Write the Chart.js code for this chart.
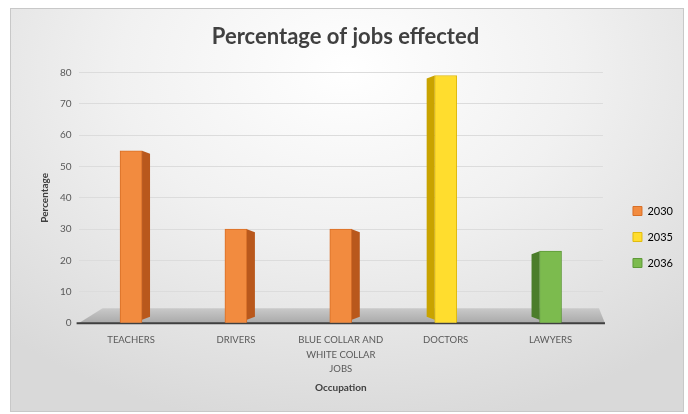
<!DOCTYPE html>
<html>
<head>
<meta charset="utf-8">
<title>Percentage of jobs effected</title>
<script src="https://cdn.jsdelivr.net/npm/chart.js@4.4.1/dist/chart.umd.min.js"></script>
<style>
  html, body { margin: 0; padding: 0; background: #fff; }
  #wrap { position: relative; width: 688px; height: 414px; overflow: hidden; }
  #frame {
    position: absolute; left: 10px; top: 8px; width: 672px; height: 402px;
    border: 1px solid #c8c8c8;
    background: radial-gradient(ellipse 75% 90% at 50% 15%, #ffffff 0%, #f1f1f1 45%, #d9d9d9 100%);
  }
  #chart { position: absolute; left: 0; top: 0; }
</style>
</head>
<body>
<div id="wrap">
  <div id="frame"></div>
  <canvas id="chart" width="688" height="414"></canvas>
</div>
<script>
const categories = ['TEACHERS', 'DRIVERS', ['BLUE COLLAR AND', 'WHITE COLLAR', 'JOBS'], 'DOCTORS', 'LAWYERS'];
const years = ['2030', '2035', '2036'];
const values2030 = [55, 30, 30, null, null];
const values2035 = [null, null, null, 79, null];
const values2036 = [null, null, null, null, 23];
const yTicks = [0, 10, 20, 30, 40, 50, 60, 70, 80];

const fontFamily = "Lato, 'Liberation Sans', sans-serif";
const fronts = ['#f28b3f', '#ffdd2e', '#7cbb4e'];
const sides = ['#b9581c', '#c9a300', '#4b7d2b'];
const borders = ['#d86f27', '#e0bb10', '#5e9a38'];

// grey floor under the bars, like the 3d excel chart
const floorPlugin = {
  id: 'floor',
  beforeDatasetsDraw(chart) {
    const { ctx, chartArea } = chart;
    const b = chartArea.bottom;
    ctx.save();
    const g = ctx.createLinearGradient(0, b - 15, 0, b);
    g.addColorStop(0, '#c9c9c9');
    g.addColorStop(1, '#a9a9a9');
    ctx.fillStyle = g;
    ctx.beginPath();
    ctx.moveTo(chartArea.left, b);
    ctx.lineTo(chartArea.left + 24, b - 15);
    ctx.lineTo(chartArea.right - 4, b - 15);
    ctx.lineTo(chartArea.right + 2, b);
    ctx.closePath();
    ctx.fill();
    ctx.strokeStyle = '#3f3f3f';
    ctx.lineWidth = 2;
    ctx.beginPath();
    ctx.moveTo(chartArea.left - 2, b);
    ctx.lineTo(chartArea.right + 2, b);
    ctx.stroke();
    ctx.restore();
  }
};

// side faces of the bars
const sidePlugin = {
  id: 'sides',
  afterDatasetsDraw(chart) {
    const { ctx, chartArea } = chart;
    const vanish = chartArea.left + (chartArea.right - chartArea.left) * 0.6;
    ctx.save();
    chart.data.datasets.forEach((ds, i) => {
      const meta = chart.getDatasetMeta(i);
      meta.data.forEach((bar, j) => {
        if (ds.data[j] == null) return;
        const half = bar.width / 2;
        const top = bar.y, bottom = bar.base - 3;
        const d = 8;
        ctx.fillStyle = sides[i];
        ctx.beginPath();
        if (bar.x < vanish) {
          const xr = bar.x + half;
          ctx.moveTo(xr, top);
          ctx.lineTo(xr + d, top + 3);
          ctx.lineTo(xr + d, bottom - 3);
          ctx.lineTo(xr, bottom);
        } else {
          const xl = bar.x - half;
          ctx.moveTo(xl, top);
          ctx.lineTo(xl - d, top + 3);
          ctx.lineTo(xl - d, bottom - 3);
          ctx.lineTo(xl, bottom);
        }
        ctx.closePath();
        ctx.fill();
      });
    });
    ctx.restore();
  }
};

// nudge legend lower/right and title a bit left, as in the excel picture
const nudgePlugin = {
  id: 'nudge',
  afterLayout(chart) {
    const lg = chart.legend;
    lg.left += 15; lg.right += 15;
    lg.top += 40; lg.bottom += 40;
    const t = chart.titleBlock;
    t.left -= 8; t.right -= 8;
  }
};

new Chart(document.getElementById('chart'), {
  type: 'bar',
  data: {
    labels: categories,
    datasets: [values2030, values2035, values2036].map((vals, i) => ({
      label: years[i],
      data: vals,
      backgroundColor: fronts[i],
      borderColor: borders[i],
      borderWidth: 1,
      barThickness: 22,
      skipNull: true,
    })),
  },
  options: {
    responsive: false,
    animation: false,
    layout: { padding: { left: 39, right: 20, top: 0, bottom: 20 } },
    plugins: {
      title: {
        display: true,
        text: 'Percentage of jobs effected',
        color: '#404040',
        font: { family: fontFamily, size: 22, weight: 'bold' },
        padding: { top: 24, bottom: 22 },
      },
      legend: {
        position: 'right',
        labels: {
          boxWidth: 9,
          boxHeight: 9,
          padding: 15,
          color: '#595959',
          font: { family: fontFamily, size: 11 },
          generateLabels(chart) {
            return chart.data.datasets.map((ds, i) => ({
              text: ds.label,
              fillStyle: fronts[i],
              strokeStyle: borders[i],
              lineWidth: 1,
              datasetIndex: i,
            }));
          },
        },
      },
      tooltip: { enabled: false },
    },
    scales: {
      x: {
        grid: { display: false },
        border: { display: false },
        ticks: {
          color: '#595959',
          padding: 2,
          maxRotation: 0,
          autoSkip: false,
          font: { family: fontFamily, size: 9.5, lineHeight: 1.5 },
        },
        title: {
          display: true,
          text: 'Occupation',
          color: '#404040',
          font: { family: fontFamily, size: 10, weight: 'bold' },
          padding: { top: 4, bottom: 0 },
        },
      },
      y: {
        min: 0,
        max: 80,
        afterBuildTicks(axis) { axis.ticks = yTicks.map(v => ({ value: v })); },
        grid: { color: '#dcdcdc', drawTicks: false },
        border: { display: false },
        ticks: {
          color: '#595959',
          padding: 7,
          font: { family: fontFamily, size: 10 },
        },
        title: {
          display: true,
          text: 'Percentage',
          color: '#404040',
          font: { family: fontFamily, size: 10, weight: 'bold' },
          padding: { top: 0, bottom: 2 },
        },
      },
    },
  },
  plugins: [floorPlugin, sidePlugin, nudgePlugin],
});
</script>
</body>
</html>
